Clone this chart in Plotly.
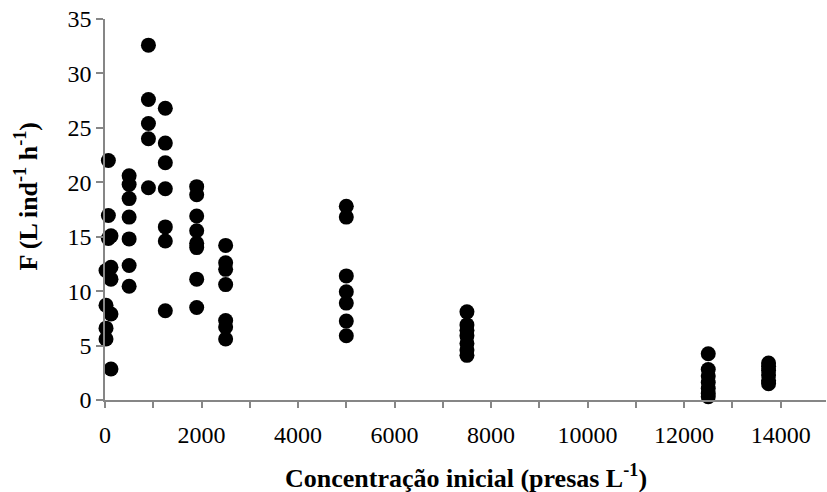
import plotly.graph_objects as go

# Initial prey concentration (presas L-1)
conc = (
    [70, 70, 70, 124, 21, 124, 124, 21, 124, 21, 21, 124]
    + [500] * 7
    + [900] * 5
    + [1250] * 7
    + [1900] * 8
    + [2500] * 7
    + [5000] * 7
    + [7500] * 7
    + [12500] * 7
    + [13750] * 6
)
# Clearance rate F (L ind-1 h-1)
F = (
    [22.0, 16.95, 14.83, 15.08, 11.9, 12.2, 11.1, 8.7, 7.9, 6.6, 5.6, 2.85]
    + [20.6, 19.8, 18.5, 16.8, 14.8, 12.35, 10.45]
    + [32.6, 27.6, 25.4, 24.0, 19.5]
    + [26.8, 23.6, 21.8, 19.4, 15.9, 14.6, 8.2]
    + [19.6, 18.85, 16.9, 15.55, 14.4, 14.0, 11.1, 8.5]
    + [14.2, 12.6, 12.0, 10.6, 7.3, 6.7, 5.6]
    + [17.8, 16.8, 11.4, 9.95, 8.9, 7.25, 5.9]
    + [8.1, 6.9, 6.4, 5.9, 5.2, 4.6, 4.1]
    + [4.25, 2.8, 2.2, 1.6, 1.05, 0.6, 0.3]
    + [3.4, 3.1, 2.7, 2.3, 1.8, 1.5]
)

x_ticks = [0, 2000, 4000, 6000, 8000, 10000, 12000, 14000]
y_ticks = [0, 5, 10, 15, 20, 25, 30, 35]

axis_color = "#868686"
font_family = "Liberation Serif, Times New Roman, serif"

fig = go.Figure(
    go.Scatter(
        x=conc,
        y=F,
        mode="markers",
        marker=dict(color="black", size=15, line=dict(width=0)),
        cliponaxis=False,
        showlegend=False,
    )
)

fig.update_layout(
    width=827,
    height=492,
    margin=dict(l=105, r=1, t=19, b=92),
    paper_bgcolor="white",
    plot_bgcolor="white",
    font=dict(family=font_family, size=24, color="black"),
)

fig.update_xaxes(
    range=[0, 14940],
    tickvals=x_ticks,
    ticktext=[str(v) for v in x_ticks],
    showgrid=False,
    zeroline=False,
    showline=True,
    linecolor=axis_color,
    linewidth=1.5,
    ticks="outside",
    ticklen=6,
    tickwidth=1.5,
    tickcolor=axis_color,
    ticklabelstandoff=6,
    minor=dict(dtick=1000, tick0=0, ticks="outside", ticklen=6, tickwidth=1.5,
               tickcolor=axis_color, showgrid=False),
    tickfont=dict(family=font_family, size=24, color="black"),
)
fig.update_yaxes(
    range=[0, 35],
    tickvals=y_ticks,
    ticktext=[str(v) for v in y_ticks],
    showgrid=False,
    zeroline=False,
    showline=True,
    linecolor=axis_color,
    linewidth=1.5,
    ticks="outside",
    ticklen=7,
    tickwidth=1.5,
    tickcolor=axis_color,
    tickfont=dict(family=font_family, size=24, color="black"),
)

fig.add_annotation(
    text="<b>Concentração inicial (presas L<sup>-1</sup>)</b>",
    xref="paper", yref="paper",
    x=0.5, y=-0.202,
    xanchor="center", yanchor="middle",
    showarrow=False,
    font=dict(family=font_family, size=26, color="black"),
)
fig.add_annotation(
    text="<b>F (L ind<sup>-1</sup> h<sup>-1</sup>)</b>",
    xref="paper", yref="paper",
    x=-0.109, y=0.535,
    xanchor="center", yanchor="middle",
    textangle=-90,
    showarrow=False,
    font=dict(family=font_family, size=26, color="black"),
)

fig.write_html("out.html")
